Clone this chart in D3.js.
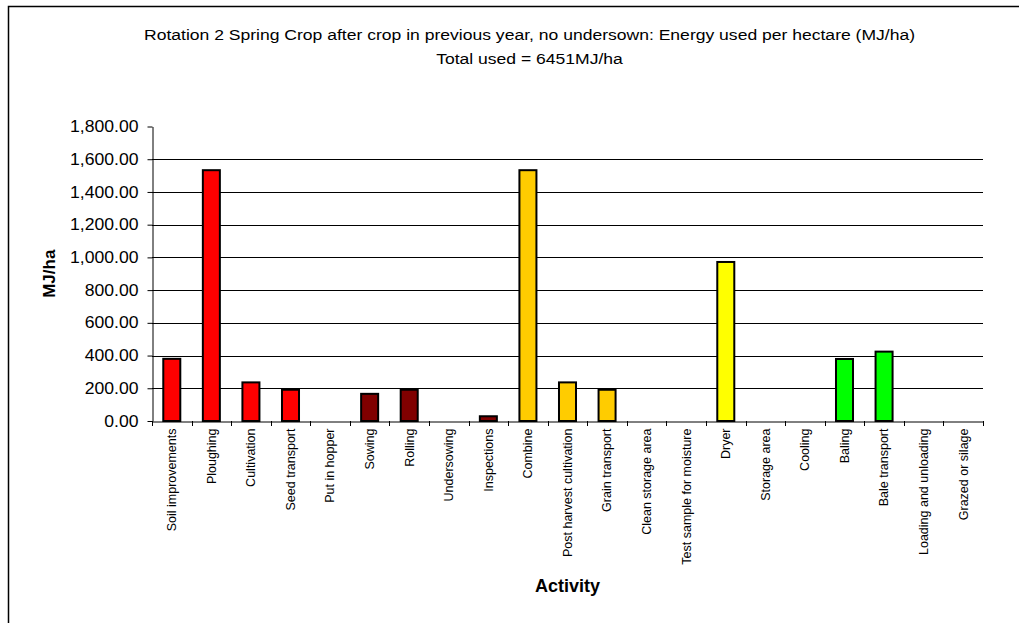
<!DOCTYPE html>
<html>
<head>
<meta charset="utf-8">
<script src="https://cdn.jsdelivr.net/npm/d3@7"></script>
<style>
  html, body { margin: 0; padding: 0; background: #fff; }
  svg { display: block; font-family: "Liberation Sans", Arial, sans-serif; }
</style>
</head>
<body>
<svg id="chart" width="1019" height="623"></svg>
<script>
// Activities, in the order they appear along the x axis
const categories = [
  "Soil improvements", "Ploughing", "Cultivation", "Seed transport", "Put in hopper",
  "Sowing", "Rolling", "Undersowing", "Inspections", "Combine",
  "Post harvest cultivation", "Grain transport", "Clean storage area",
  "Test sample for moisture", "Dryer", "Storage area", "Cooling", "Baling",
  "Bale transport", "Loading and unloading", "Grazed or silage"
];

// Energy used per activity (MJ/ha)
const energy = [
  380, 1533, 236, 191, 0,
  166, 191, 0, 29, 1533,
  236, 191, 0,
  0, 972, 0, 0, 379,
  424, 0, 0
];

// Bar fill per activity group
const barColors = [
  "#FF0000", "#FF0000", "#FF0000", "#FF0000", "#FF0000",
  "#800000", "#800000", "#800000", "#800000", "#FFCC00",
  "#FFCC00", "#FFCC00", "#FFFF00",
  "#FFFF00", "#FFFF00", "#FFFF00", "#FFFF00", "#00FF00",
  "#00FF00", "#00FF00", "#00FF00"
];

const yTicks = [0, 200, 400, 600, 800, 1000, 1200, 1400, 1600, 1800];

const titleLines = [
  "Rotation 2 Spring Crop after crop in previous year, no undersown: Energy used per hectare (MJ/ha)",
  "Total used = 6451MJ/ha"
];
const xTitle = "Activity";
const yTitle = "MJ/ha";

const svg = d3.select("#chart");

// outer chart frame
svg.append("rect")
  .attr("x", 8.5).attr("y", 6.5)
  .attr("width", 1200).attr("height", 1000)
  .attr("fill", "none").attr("stroke", "#000").attr("stroke-width", 1.5);

const plot = { left: 152, right: 983, top: 126.5, bottom: 421 };

const x = d3.scaleBand()
  .domain(categories)
  .range([plot.left, plot.right])
  .paddingInner(0).paddingOuter(0);

const y = d3.scaleLinear()
  .domain([0, 1800])
  .range([plot.bottom, plot.top]);

// horizontal gridlines
svg.append("g")
  .selectAll("line")
  .data(yTicks.filter(v => v > 0 && v < 1800))
  .join("line")
  .attr("x1", plot.left).attr("x2", plot.right)
  .attr("y1", d => Math.round(y(d)) + 0.5).attr("y2", d => Math.round(y(d)) + 0.5)
  .attr("stroke", "#000").attr("stroke-width", 1);

// bars
const bw = x.bandwidth() * 0.43;
svg.append("g")
  .selectAll("rect")
  .data(categories.map((c, i) => ({ c, v: energy[i], col: barColors[i] })).filter(d => d.v > 0))
  .join("rect")
  .attr("x", d => x(d.c) + x.bandwidth() / 2 - bw / 2)
  .attr("width", bw)
  .attr("y", d => y(d.v))
  .attr("height", d => y(0) - y(d.v))
  .attr("fill", d => d.col)
  .attr("stroke", "#000").attr("stroke-width", 2);

// y axis
const fmt = d3.format(",.2f");
const yAxis = svg.append("g")
  .attr("transform", `translate(${plot.left + 0.5},0)`)
  .call(d3.axisLeft(y).tickValues(yTicks).tickFormat(fmt).tickSize(5).tickPadding(9).tickSizeOuter(0));
yAxis.select(".domain").attr("stroke", "#000");
yAxis.selectAll(".tick line").attr("stroke", "#000");
yAxis.selectAll(".tick text")
  .attr("font-size", 16).attr("fill", "#000")
  .attr("font-family", "Liberation Sans, Arial, sans-serif")
  .attr("x", 0)
  .attr("transform", "translate(-14,0) scale(1.1,1)");

// x axis
const xAxis = svg.append("g")
  .attr("transform", `translate(0,${plot.bottom + 0.5})`)
  .call(d3.axisBottom(x).tickSize(0).tickSizeOuter(0));
xAxis.select(".domain").attr("stroke", "#000");
xAxis.selectAll(".tick text")
  .attr("font-size", 12.5).attr("fill", "#000")
  .attr("font-family", "Liberation Sans, Arial, sans-serif")
  .attr("text-anchor", "end")
  .attr("dy", "0.35em")
  .attr("transform", "translate(0,7) rotate(-90)")
  .attr("x", 0).attr("y", 0);

// category boundary tick marks
svg.append("g")
  .selectAll("line")
  .data(d3.range(categories.length + 1))
  .join("line")
  .attr("x1", i => Math.round(plot.left + i * x.step()) + 0.5)
  .attr("x2", i => Math.round(plot.left + i * x.step()) + 0.5)
  .attr("y1", plot.bottom).attr("y2", plot.bottom + 5)
  .attr("stroke", "#000");

// titles
svg.append("g")
  .selectAll("text")
  .data(titleLines)
  .join("text")
  .attr("transform", (d, i) => `translate(529.5,${40 + i * 24}) scale(1.17,1)`)
  .attr("text-anchor", "middle")
  .attr("font-size", 15)
  .attr("fill", "#000")
  .text(d => d);

svg.append("text")
  .attr("x", (plot.left + plot.right) / 2)
  .attr("y", 592)
  .attr("text-anchor", "middle")
  .attr("font-size", 18).attr("font-weight", "bold")
  .text(xTitle);

svg.append("text")
  .attr("transform", `translate(55,${(plot.top + plot.bottom) / 2}) rotate(-90)`)
  .attr("text-anchor", "middle")
  .attr("font-size", 17).attr("font-weight", "bold")
  .text(yTitle);
</script>
</body>
</html>
